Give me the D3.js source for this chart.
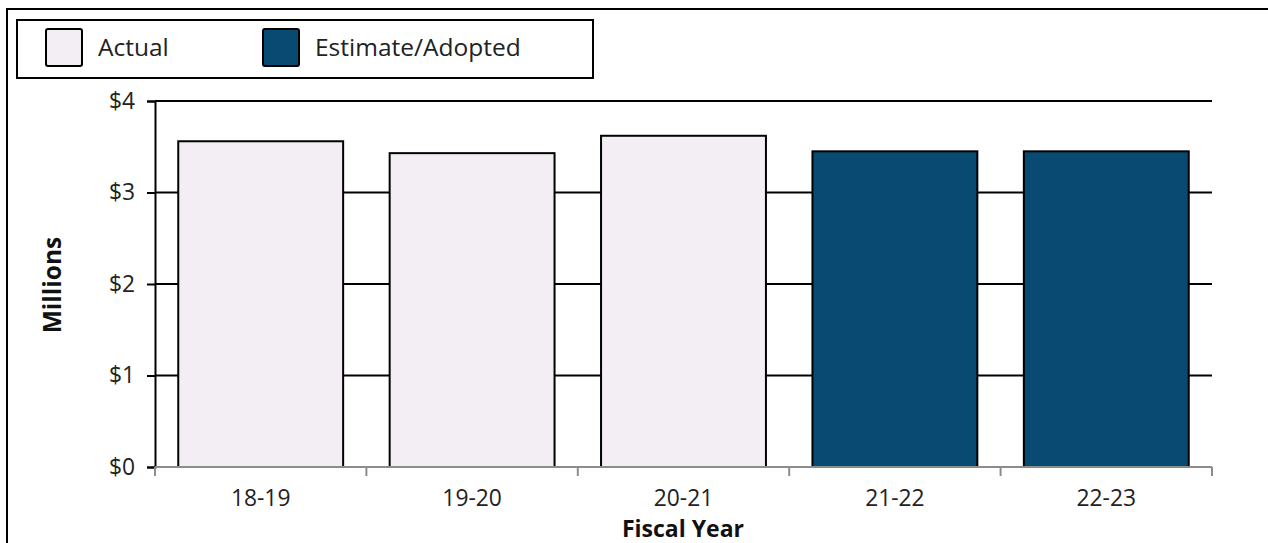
<!DOCTYPE html>
<html>
<head>
<meta charset="utf-8">
<script src="https://cdn.jsdelivr.net/npm/d3@7"></script>
<style>
  html, body { margin: 0; padding: 0; background: #fff; }
  svg { display: block; font-family: "Open Sans", "Noto Sans", sans-serif; }
</style>
</head>
<body>
<svg id="chart" width="1268" height="543"></svg>
<script>
// Fiscal years and values (millions of dollars)
const years = ["18-19", "19-20", "20-21", "21-22", "22-23"];
const values = [3.56, 3.43, 3.62, 3.45, 3.45];
const kinds = ["Actual", "Actual", "Actual", "Estimate/Adopted", "Estimate/Adopted"];
const legendLabels = ["Actual", "Estimate/Adopted"];
const yTicks = [0, 1, 2, 3, 4];

const colors = { "Actual": "#f2eef4", "Estimate/Adopted": "#084a72" };

const svg = d3.select("#chart");
const margin = { left: 155, right: 56, top: 101, bottom: 76 };
const W = 1268, H = 543;
const FS = 22.8;

const x = d3.scaleBand().domain(years)
  .range([margin.left, W - margin.right])
  .paddingInner(0.22).paddingOuter(0.11);
const y = d3.scaleLinear().domain([0, 4]).range([H - margin.bottom, margin.top]);

// outer frame
svg.append("path")
  .attr("d", `M7,${H} L7,9 L${W},9`)
  .attr("fill", "none").attr("stroke", "#000").attr("stroke-width", 2);

// gridlines
svg.append("g").selectAll("line").data(yTicks.filter(d => d > 0)).join("line")
  .attr("x1", margin.left).attr("x2", W - margin.right)
  .attr("y1", d => y(d)).attr("y2", d => y(d))
  .attr("stroke", "#000").attr("stroke-width", 2);

// y axis
const yAxis = svg.append("g").attr("transform", `translate(${margin.left},0)`)
  .call(d3.axisLeft(y).tickValues(yTicks).tickSize(8).tickPadding(12).tickFormat(d => "$" + d));
yAxis.attr("font-size", FS).attr("font-family", "'Open Sans', sans-serif");
yAxis.select(".domain").attr("stroke", "#000").attr("stroke-width", 2);
yAxis.selectAll(".tick line").attr("stroke", "#000").attr("stroke-width", 2);
yAxis.selectAll("text").attr("fill", "#222");

// bars
svg.append("g").selectAll("rect").data(years).join("rect")
  .attr("x", d => x(d))
  .attr("width", x.bandwidth())
  .attr("y", (d, i) => y(values[i]))
  .attr("height", (d, i) => y(0) - y(values[i]))
  .attr("fill", (d, i) => colors[kinds[i]])
  .attr("stroke", "#000").attr("stroke-width", 2);

// x axis
const bounds = years.map(d => x(d) - x.step() * x.paddingInner() / 2);
bounds[0] = margin.left;
bounds.push(W - margin.right);
const xg = svg.append("g");
xg.append("line").attr("x1", margin.left).attr("x2", W - margin.right)
  .attr("y1", y(0)).attr("y2", y(0)).attr("stroke", "#8c8c8c").attr("stroke-width", 2);
xg.selectAll("line.tk").data(bounds).join("line").attr("class", "tk")
  .attr("x1", d => d).attr("x2", d => d)
  .attr("y1", y(0)).attr("y2", y(0) + 9)
  .attr("stroke", "#8c8c8c").attr("stroke-width", 2);
xg.selectAll("text").data(years).join("text")
  .attr("x", d => x(d) + x.bandwidth() / 2)
  .attr("y", y(0) + 39)
  .attr("text-anchor", "middle").attr("font-size", FS).attr("fill", "#222")
  .text(d => d);

// axis titles
svg.append("text")
  .attr("transform", `translate(61,${(y(0) + y(4)) / 2 + 1}) rotate(-90)`)
  .attr("text-anchor", "middle").attr("font-size", 24.5).attr("font-weight", "bold")
  .attr("fill", "#111").text("Millions");
svg.append("text")
  .attr("x", 683).attr("y", 537)
  .attr("text-anchor", "middle").attr("font-size", 23).attr("font-weight", "bold")
  .attr("fill", "#111").text("Fiscal Year");

// legend
const lg = svg.append("g");
lg.append("rect").attr("x", 17).attr("y", 20).attr("width", 576).attr("height", 58)
  .attr("fill", "#fff").attr("stroke", "#000").attr("stroke-width", 2);
const lx = [46, 263];
legendLabels.forEach((lab, i) => {
  lg.append("rect").attr("x", lx[i]).attr("y", 29).attr("width", 36).attr("height", 37)
    .attr("rx", 2)
    .attr("fill", colors[lab]).attr("stroke", "#000").attr("stroke-width", 2);
  lg.append("text").attr("x", lx[i] + 52).attr("y", 56)
    .attr("font-size", 24.5).attr("fill", "#222").text(lab);
});
</script>
</body>
</html>
